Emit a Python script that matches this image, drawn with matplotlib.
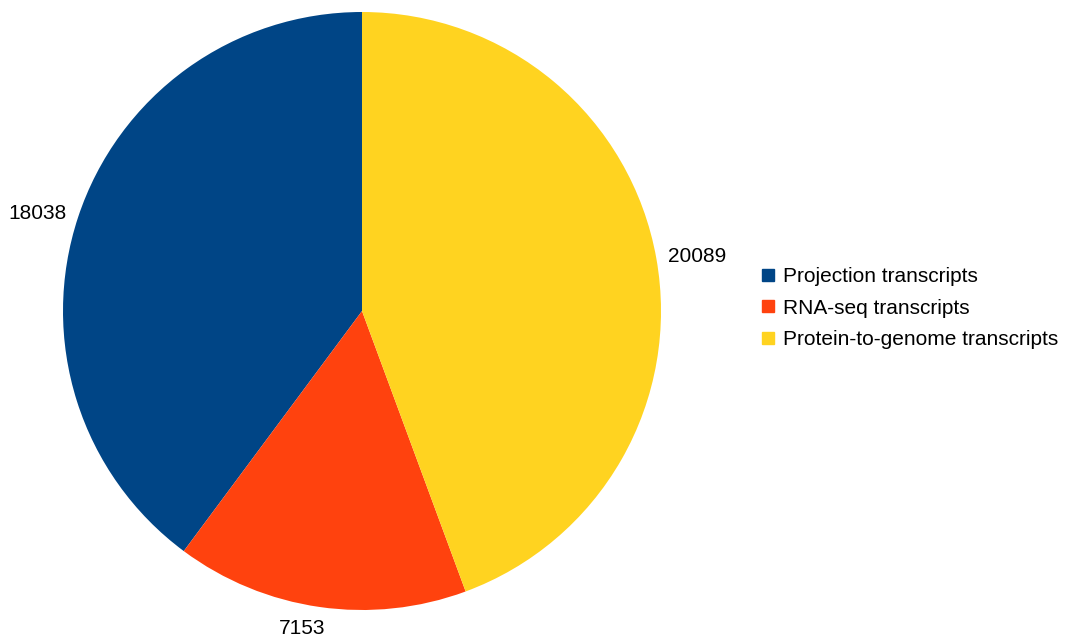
import numpy as np
import matplotlib.pyplot as plt
from matplotlib.lines import Line2D

plt.rcParams['font.family'] = ['Liberation Sans', 'DejaVu Sans']

labels = ["Projection transcripts", "RNA-seq transcripts", "Protein-to-genome transcripts"]
values = [18038, 7153, 20089]
colors = ["#004586", "#ff420e", "#ffd320"]

W, H = 1069, 644
fig = plt.figure(figsize=(W / 100, H / 100), dpi=100)

# pie axes: centre (362, 311), radius 299 px
cx, cy, r = 362, 311, 299
ax = fig.add_axes([(cx - r) / W, (H - cy - r) / H, 2 * r / W, 2 * r / H])
wedges, _ = ax.pie(values, colors=colors, startangle=90, counterclock=True,
                   radius=1, wedgeprops=dict(linewidth=0))
ax.set_xlim(-1, 1)
ax.set_ylim(-1, 1)
ax.set_aspect('equal')
ax.axis('off')

# value labels just outside the pie
for w, v in zip(wedges, values):
    ang = np.deg2rad((w.theta1 + w.theta2) / 2)
    x, y = np.cos(ang), np.sin(ang)
    if abs(x) < 0.3:
        ax.text(1.06 * x - 0.05, 1.04 * y, str(v), ha='center', va='top',
                fontsize=15, clip_on=False)
    else:
        ax.text(1.04 * x, 1.04 * y, str(v), ha='left' if x > 0 else 'right',
                va='center', fontsize=15, clip_on=False)

handles = [Line2D([], [], marker='s', linestyle='none', markersize=8.5,
                  markerfacecolor=c, markeredgecolor=c) for c in colors]
fig.legend(handles, labels, loc='center left', bbox_to_anchor=(749 / W, 1 - 308 / H),
           frameon=False, fontsize=15, handlelength=0.8, handletextpad=0.35,
           labelspacing=0.6, borderpad=0)

fig.savefig("out.png", dpi=100)
